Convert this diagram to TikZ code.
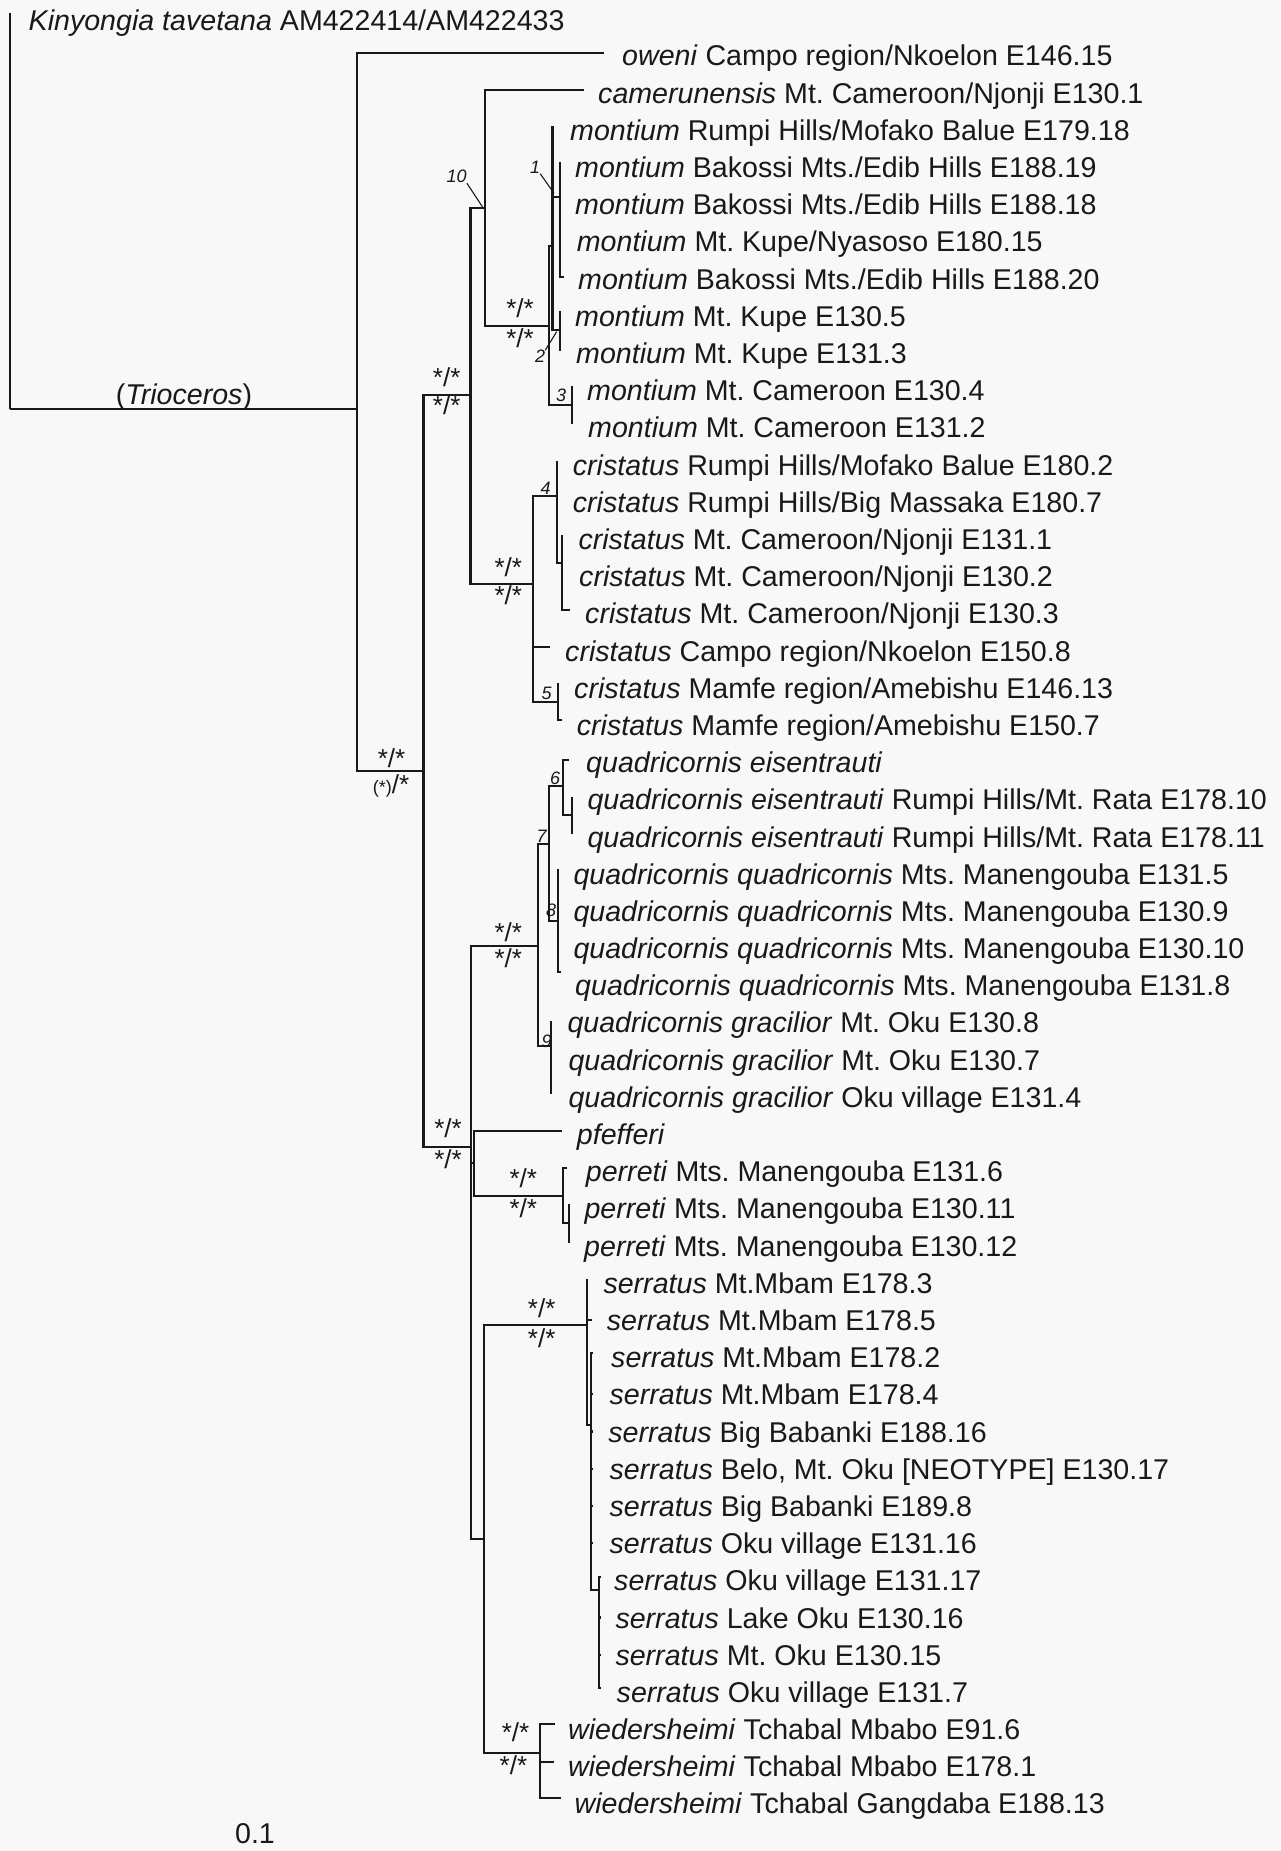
\documentclass[tikz,border=0pt]{standalone}
\usepackage{fontspec}
\setmainfont{Liberation Sans}
\frenchspacing
\definecolor{bgc}{RGB}{248,248,248}
\definecolor{ink}{RGB}{25,25,25}
\begin{document}
\frenchspacing
\begin{tikzpicture}[x=1pt,y=-1pt,
  br/.style={draw=ink,line width=2.1pt},
  leaf/.style={anchor=base west,inner sep=0pt,font=\frenchspacing\fontsize{28.6}{34}\selectfont,text=ink},
  supp/.style={inner sep=0pt,font=\fontsize{26}{30}\selectfont,text=ink},
  numl/.style={inner sep=0pt,font=\itshape\fontsize{18}{22}\selectfont,text=ink},
  lead/.style={draw=ink,line width=1.1pt}]
\fill[bgc] (0,0) rectangle (1280,1851);
\useasboundingbox (0,0) rectangle (1280,1851);
% ---------- internal nodes and tips ----------
\coordinate (R) at (10.2,409.3);
\coordinate (kin) at (10.2,13.3);
\coordinate (A) at (357,409.3);
\coordinate (l1) at (604,53.3);
\coordinate (B) at (423.5,770.7);
\coordinate (C) at (470.5,395);
\coordinate (D) at (471,1146.7);
\coordinate (N10) at (485,207.7);
\coordinate (l2) at (583.5,90);
\coordinate (M) at (549,325.7);
\coordinate (Nn) at (552.5,246);
\coordinate (l3) at (553.5,127);
\coordinate (N1) at (560,196.7);
\coordinate (l4) at (561,163.3);
\coordinate (l5) at (561,204.3);
\coordinate (l6) at (561,241.5);
\coordinate (l7) at (564,276.7);
\coordinate (N2) at (560,330);
\coordinate (l8) at (561,311.7);
\coordinate (l9) at (561,350);
\coordinate (N3) at (572,405);
\coordinate (l10) at (573,386.7);
\coordinate (l11) at (573,423.3);
\coordinate (K) at (533.3,584.3);
\coordinate (N4) at (557.3,495.7);
\coordinate (l12) at (558,461.7);
\coordinate (l13) at (558,501.8);
\coordinate (N4b) at (562.3,563.3);
\coordinate (l14) at (563,536);
\coordinate (l15) at (563,576.2);
\coordinate (l16) at (570,610);
\coordinate (l17) at (550,646.7);
\coordinate (N5) at (558.3,702.3);
\coordinate (l18) at (559,684);
\coordinate (l19) at (562,720);
\coordinate (Q) at (537.7,945.7);
\coordinate (N7) at (549.3,844);
\coordinate (N6) at (562.7,786);
\coordinate (l20) at (569.3,760);
\coordinate (N6b) at (571.7,815);
\coordinate (l21) at (572.5,798.3);
\coordinate (l22) at (572.5,833.3);
\coordinate (N8) at (557.7,921);
\coordinate (l23) at (558.5,870);
\coordinate (l24) at (558.5,910.9);
\coordinate (l25) at (558.5,948.1);
\coordinate (l26) at (561,971.7);
\coordinate (N9) at (551,1046);
\coordinate (l27) at (552,1021.7);
\coordinate (l28) at (552,1059.6);
\coordinate (l29) at (552,1093.3);
\coordinate (F) at (474.3,1162.7);
\coordinate (l30) at (561.7,1131);
\coordinate (P) at (563.3,1195.7);
\coordinate (l31) at (566.7,1168.3);
\coordinate (Pb) at (569.3,1223.3);
\coordinate (l32) at (570,1205);
\coordinate (l33) at (570,1241.7);
\coordinate (E) at (484.3,1539.3);
\coordinate (S) at (586.7,1325);
\coordinate (l34) at (588,1280);
\coordinate (l35) at (592,1320);
\coordinate (S2) at (591,1425);
\coordinate (l36) at (592.5,1353);
\coordinate (l37) at (592.5,1394.3);
\coordinate (l38) at (592.5,1431.5);
\coordinate (l39) at (592.5,1468.7);
\coordinate (l40) at (592.5,1505.9);
\coordinate (l41) at (592.5,1543.1);
\coordinate (S3) at (599,1590);
\coordinate (l42) at (600.5,1577);
\coordinate (l43) at (600.5,1617.5);
\coordinate (l44) at (600.5,1654.7);
\coordinate (l45) at (600.5,1688);
\coordinate (W) at (540,1752.7);
\coordinate (l46) at (554.5,1724);
\coordinate (l47) at (553.6,1761.7);
\coordinate (l48) at (561,1798.3);
% ---------- branches ----------
\foreach \p/\c in {R/kin,R/A,A/l1,A/B,B/C,B/D,C/N10,C/K,N10/l2,N10/M,
  M/Nn,M/N3,Nn/l3,Nn/N1,Nn/N2,N1/l4,N1/l5,N1/l6,N1/l7,N2/l8,N2/l9,N3/l10,N3/l11,
  K/N4,K/l17,K/N5,N4/l12,N4/l13,N4/N4b,N4b/l14,N4b/l15,N4b/l16,N5/l18,N5/l19,
  D/Q,D/F,D/E,Q/N7,Q/N9,N7/N6,N7/N8,N6/l20,N6/N6b,N6b/l21,N6b/l22,
  N8/l23,N8/l24,N8/l25,N8/l26,N9/l27,N9/l28,N9/l29,
  F/l30,F/P,P/l31,P/Pb,Pb/l32,Pb/l33,
  E/S,E/W,S/l34,S/l35,S/S2,S2/l36,S2/l37,S2/l38,S2/l39,S2/l40,S2/l41,S2/S3,
  S3/l42,S3/l43,S3/l44,S3/l45,W/l46,W/l47,W/l48}
  \draw[br] (\p) |- (\c);
% ---------- leaf labels ----------
\node[leaf] (t0) at (28.5,31) {\textit{Kinyongia tavetana} AM422414/AM422433};
\node[leaf] (t1) at (622,66.0) {\textit{oweni} Campo region/Nkoelon E146.15};
\node[leaf] (t2) at (598,103.2) {\textit{camerunensis} Mt. Cameroon/Njonji E130.1};
\node[leaf] (t3) at (570,140.4) {\textit{montium} Rumpi Hills/Mofako Balue E179.18};
\node[leaf] (t4) at (575,177.6) {\textit{montium} Bakossi Mts./Edib Hills E188.19};
\node[leaf] (t5) at (575,214.8) {\textit{montium} Bakossi Mts./Edib Hills E188.18};
\node[leaf] (t6) at (576.7,252.0) {\textit{montium} Mt. Kupe/Nyasoso E180.15};
\node[leaf] (t7) at (578,289.1) {\textit{montium} Bakossi Mts./Edib Hills E188.20};
\node[leaf] (t8) at (575,326.3) {\textit{montium} Mt. Kupe E130.5};
\node[leaf] (t9) at (576,363.5) {\textit{montium} Mt. Kupe E131.3};
\node[leaf] (t10) at (587,400.7) {\textit{montium} Mt. Cameroon E130.4};
\node[leaf] (t11) at (588,437.9) {\textit{montium} Mt. Cameroon E131.2};
\node[leaf] (t12) at (572.7,475.1) {\textit{cristatus} Rumpi Hills/Mofako Balue E180.2};
\node[leaf] (t13) at (572.7,512.3) {\textit{cristatus} Rumpi Hills/Big Massaka E180.7};
\node[leaf] (t14) at (578.3,549.5) {\textit{cristatus} Mt. Cameroon/Njonji E131.1};
\node[leaf] (t15) at (579,586.7) {\textit{cristatus} Mt. Cameroon/Njonji E130.2};
\node[leaf] (t16) at (585,623.9) {\textit{cristatus} Mt. Cameroon/Njonji E130.3};
\node[leaf] (t17) at (565,661.0) {\textit{cristatus} Campo region/Nkoelon E150.8};
\node[leaf] (t18) at (574,698.2) {\textit{cristatus} Mamfe region/Amebishu E146.13};
\node[leaf] (t19) at (576.7,735.4) {\textit{cristatus} Mamfe region/Amebishu E150.7};
\node[leaf] (t20) at (586,772.6) {\textit{quadricornis eisentrauti}};
\node[leaf] (t21) at (587.3,809.8) {\textit{quadricornis eisentrauti} Rumpi Hills/Mt. Rata E178.10};
\node[leaf] (t22) at (587.3,847.0) {\textit{quadricornis eisentrauti} Rumpi Hills/Mt. Rata E178.11};
\node[leaf] (t23) at (573.3,884.2) {\textit{quadricornis quadricornis} Mts. Manengouba E131.5};
\node[leaf] (t24) at (573.3,921.4) {\textit{quadricornis quadricornis} Mts. Manengouba E130.9};
\node[leaf] (t25) at (573.3,958.6) {\textit{quadricornis quadricornis} Mts. Manengouba E130.10};
\node[leaf] (t26) at (575,995.8) {\textit{quadricornis quadricornis} Mts. Manengouba E131.8};
\node[leaf] (t27) at (567.3,1032.9) {\textit{quadricornis gracilior} Mt. Oku E130.8};
\node[leaf] (t28) at (568.3,1070.1) {\textit{quadricornis gracilior} Mt. Oku E130.7};
\node[leaf] (t29) at (568.3,1107.3) {\textit{quadricornis gracilior} Oku village E131.4};
\node[leaf] (t30) at (576.7,1144.5) {\textit{pfefferi}};
\node[leaf] (t31) at (585.7,1181.7) {\textit{perreti} Mts. Manengouba E131.6};
\node[leaf] (t32) at (584.3,1218.9) {\textit{perreti} Mts. Manengouba E130.11};
\node[leaf] (t33) at (584,1256.1) {\textit{perreti} Mts. Manengouba E130.12};
\node[leaf] (t34) at (603.3,1293.3) {\textit{serratus} Mt.Mbam E178.3};
\node[leaf] (t35) at (606.7,1330.5) {\textit{serratus} Mt.Mbam E178.5};
\node[leaf] (t36) at (611,1367.7) {\textit{serratus} Mt.Mbam E178.2};
\node[leaf] (t37) at (609.4,1404.8) {\textit{serratus} Mt.Mbam E178.4};
\node[leaf] (t38) at (608.2,1442.0) {\textit{serratus} Big Babanki E188.16};
\node[leaf] (t39) at (609.4,1479.2) {\textit{serratus} Belo, Mt. Oku [NEOTYPE] E130.17};
\node[leaf] (t40) at (609.4,1516.4) {\textit{serratus} Big Babanki E189.8};
\node[leaf] (t41) at (609.4,1553.6) {\textit{serratus} Oku village E131.16};
\node[leaf] (t42) at (614,1590.8) {\textit{serratus} Oku village E131.17};
\node[leaf] (t43) at (615.3,1628.0) {\textit{serratus} Lake Oku E130.16};
\node[leaf] (t44) at (615.3,1665.2) {\textit{serratus} Mt. Oku E130.15};
\node[leaf] (t45) at (616.5,1702.4) {\textit{serratus} Oku village E131.7};
\node[leaf] (t46) at (568,1739.6) {\textit{wiedersheimi} Tchabal Mbabo E91.6};
\node[leaf] (t47) at (568,1776.7) {\textit{wiedersheimi} Tchabal Mbabo E178.1};
\node[leaf] (t48) at (574.5,1813.9) {\textit{wiedersheimi} Tchabal Gangdaba E188.13};
% ---------- clade and support labels ----------
\node[leaf,anchor=base] (trio) at (184,404) {(\textit{Trioceros})};
\node[supp] (sAa) at (391.5,758.3) {*/*};
\node[supp] (sAb) at (391,786) {{\fontsize{18}{20}\selectfont(*)}/*};
\node[supp] (sBa) at (446.7,377) {*/*};
\node[supp] (sBb) at (446.7,405) {*/*};
\node[supp] (sMa) at (520,308.5) {*/*};
\node[supp] (sMb) at (520,338.5) {*/*};
\node[supp] (sKa) at (508.3,567) {*/*};
\node[supp] (sKb) at (508.3,595.5) {*/*};
\node[supp] (sQa) at (508.3,932) {*/*};
\node[supp] (sQb) at (508.3,958.5) {*/*};
\node[supp] (sDa) at (448,1128) {*/*};
\node[supp] (sDb) at (448,1159) {*/*};
\node[supp] (sPa) at (523.3,1178.5) {*/*};
\node[supp] (sPb) at (523.3,1208.5) {*/*};
\node[supp] (sSa) at (541.7,1308.5) {*/*};
\node[supp] (sSb) at (541.7,1338.5) {*/*};
\node[supp] (sWa) at (515.6,1732) {*/*};
\node[supp] (sWb) at (513.4,1765) {*/*};
% ---------- numbered nodes ----------
\node[numl] (n10) at (456.7,176.7) {10};
\node[numl] (n1) at (535,167.3) {1};
\node[numl] (n2) at (540,356.7) {2};
\node[numl] (n3) at (561,395.5) {3};
\node[numl] (n4) at (545.7,488) {4};
\node[numl] (n5) at (546.7,693) {5};
\node[numl] (n6) at (555,778) {6};
\node[numl] (n7) at (541.7,836.5) {7};
\node[numl] (n8) at (551,910) {8};
\node[numl] (n9) at (546.7,1041.5) {9};
\coordinate (N1j) at (554,193.3);
\coordinate (N2j) at (556.7,331.7);
\draw[lead] (n10.south east) -- ([xshift=-2pt]N10);
\draw[lead] (n1.south east) -- (N1j);
\draw[lead] (n2.north east) -- (N2j);
% ---------- scale ----------
\node[leaf,anchor=center] (scl) at (255,1834) {0.1};
\end{tikzpicture}
\end{document}
